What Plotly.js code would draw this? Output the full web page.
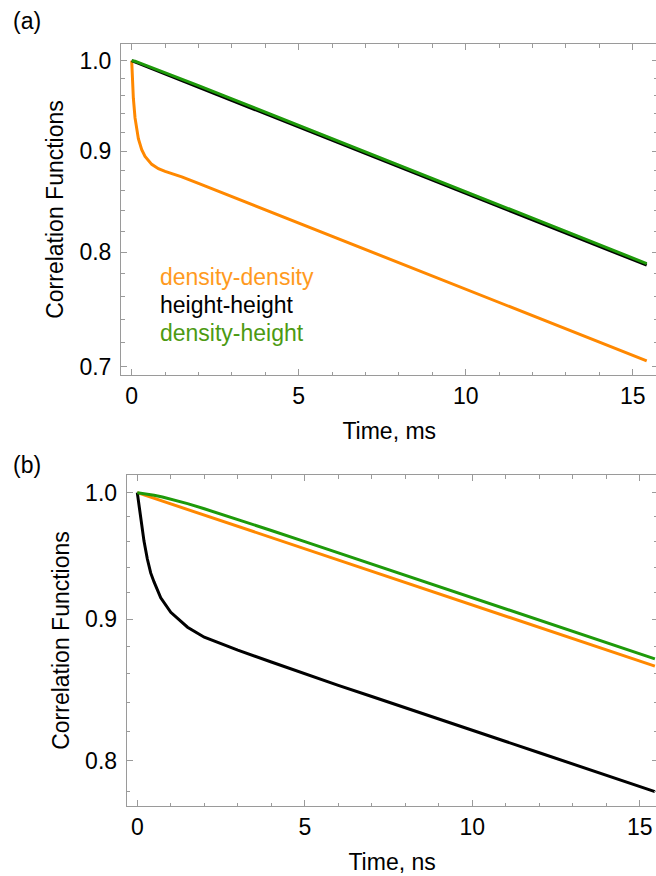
<!DOCTYPE html>
<html>
<head>
<meta charset="utf-8">
<script src="https://cdn.plot.ly/plotly-3.0.1.min.js"></script>
<style>
  html, body { margin: 0; padding: 0; overflow: hidden; background: #fff; }
  #chart { width: 659px; height: 876px; }
</style>
</head>
<body>
<div id="chart"></div>
<script>
// ---------- Panel (a): time in ms ----------
const tA_dd = [0, 0.02, 0.05, 0.1, 0.15, 0.2, 0.3, 0.4, 0.6, 0.8, 1.0, 1.5, 2, 3, 4, 5, 6, 7, 8, 9, 10, 11, 12, 13, 14, 15, 15.42];
const a_densityDensity = [1.0, 0.9772, 0.9572, 0.9355, 0.9215, 0.9131, 0.9016, 0.8944, 0.8862, 0.8817, 0.8790, 0.8734, 0.8668, 0.8535, 0.8404, 0.8276, 0.8149, 0.8024, 0.7901, 0.7780, 0.7663, 0.7544, 0.7429, 0.7315, 0.7203, 0.7094, 0.7049];

const tA_hh = [0, 1, 2, 3, 4, 5, 6, 7, 8, 9, 10, 11, 12, 13, 14, 15, 15.42];
const a_heightHeight = [1.0, 0.9847, 0.9696, 0.9547, 0.9401, 0.9257, 0.9115, 0.8975, 0.8837, 0.8702, 0.8569, 0.8437, 0.8308, 0.8181, 0.8055, 0.7932, 0.7880];

const tA_dh = [0, 0.1, 0.25, 0.5, 1, 2, 3, 4, 5, 6, 7, 8, 9, 10, 11, 12, 13, 14, 15, 15.42];
const a_densityHeight = [1.0, 0.9993, 0.9972, 0.9936, 0.9863, 0.9714, 0.9565, 0.9418, 0.9274, 0.9132, 0.8992, 0.8855, 0.8719, 0.8586, 0.8454, 0.8325, 0.8197, 0.8072, 0.7946, 0.7895];

// ---------- Panel (b): time in ns ----------
const tB_dd = [0, 1, 2, 3, 4, 5, 6, 7, 8, 9, 10, 11, 12, 13, 14, 15, 15.45];
const b_densityDensity = [1.0, 0.9907, 0.9815, 0.9724, 0.9633, 0.9544, 0.9455, 0.9367, 0.9280, 0.9194, 0.9108, 0.9023, 0.8939, 0.8856, 0.8774, 0.8692, 0.8656];

const tB_hh = [0, 0.05, 0.1, 0.2, 0.3, 0.4, 0.5, 0.7, 1, 1.5, 2, 2.5, 3, 4, 5, 6, 7, 8, 9, 10, 11, 12, 13, 14, 15, 15.45];
const b_heightHeight = [1.0, 0.9890, 0.9790, 0.9605, 0.9463, 0.9354, 0.9284, 0.9162, 0.9052, 0.8941, 0.8867, 0.8820, 0.8772, 0.8686, 0.8599, 0.8518, 0.8440, 0.8360, 0.8283, 0.8205, 0.8130, 0.8054, 0.7980, 0.7905, 0.7831, 0.7798];

const tB_dh = [0, 0.25, 0.5, 0.75, 1, 1.5, 2, 3, 4, 5, 6, 7, 8, 9, 10, 11, 12, 13, 14, 15, 15.45];
const b_densityHeight = [1.0, 0.9991, 0.9979, 0.9964, 0.9947, 0.9909, 0.9867, 0.9780, 0.9690, 0.9601, 0.9512, 0.9423, 0.9336, 0.9249, 0.9163, 0.9078, 0.8993, 0.8910, 0.8827, 0.8745, 0.8708];

// ---------- Labels and ticks ----------
const seriesNames = ['density-density', 'height-height', 'density-height'];
const xMajorTicks = [0, 5, 10, 15];
const xMinorTicks = [1, 2, 3, 4, 6, 7, 8, 9, 11, 12, 13, 14];
const yMajorTicksA = [0.7, 0.8, 0.9, 1.0];
const yMajorTextA = ['0.7', '0.8', '0.9', '1.0'];
const yMinorTicksA = [0.72, 0.74, 0.76, 0.78, 0.82, 0.84, 0.86, 0.88, 0.92, 0.94, 0.96, 0.98];
const yMajorTicksB = [0.8, 0.9, 1.0];
const yMajorTextB = ['0.8', '0.9', '1.0'];
const yMinorTicksB = [0.78, 0.82, 0.84, 0.86, 0.88, 0.92, 0.94, 0.96, 0.98];
const xTitleA = 'Time, ms';
const xTitleB = 'Time, ns';
const yTitle = 'Correlation Functions';
const panelLabels = ['(a)', '(b)'];

// ---------- Styling ----------
const FONT = '"Liberation Sans", Arial, Helvetica, sans-serif';
const FS = 23;
const cOrange = '#FF8800';
const cBlack = '#000000';
const cGreen = '#1E9A0A';
const cOrangeText = '#FF9A1E';
const cGreenText = '#4C9A12';
const frameColor = '#9a9a9a';
const W = 659, H = 876;

function px2x(p) { return p / W; }
function py2y(p) { return (H - p) / H; }

function line(x, y, color, xa, ya, name) {
  return { x: x, y: y, type: 'scatter', mode: 'lines', name: name,
           line: { color: color, width: 3 }, xaxis: xa, yaxis: ya,
           showlegend: false, hoverinfo: 'skip' };
}

const traces = [
  line(tA_dd, a_densityDensity, cOrange, 'x', 'y', seriesNames[0]),
  line(tA_hh, a_heightHeight, cBlack, 'x', 'y', seriesNames[1]),
  line(tA_dh, a_densityHeight, cGreen, 'x', 'y', seriesNames[2]),
  line(tB_dd, b_densityDensity, cOrange, 'x2', 'y2', seriesNames[0]),
  line(tB_hh, b_heightHeight, cBlack, 'x2', 'y2', seriesNames[1]),
  line(tB_dh, b_densityHeight, cGreen, 'x2', 'y2', seriesNames[2])
];

function xAxis(domain, range, title, anchor) {
  return {
    domain: domain, range: range, anchor: anchor,
    tickmode: 'array', tickvals: xMajorTicks, ticktext: xMajorTicks.map(String),
    ticks: 'inside', ticklen: 6, tickwidth: 1, tickcolor: frameColor,
    minor: { tickmode: 'array', tickvals: xMinorTicks, ticks: 'inside', ticklen: 3.5, tickwidth: 1, tickcolor: frameColor, showgrid: false },
    showline: true, linecolor: frameColor, linewidth: 1, mirror: 'ticks',
    showgrid: false, zeroline: false,
    tickfont: { family: FONT, size: FS, color: '#000' },
    ticklabelstandoff: 0,
    title: { text: title, font: { family: FONT, size: FS, color: '#000' }, standoff: 15 }
  };
}
function yAxis(domain, range, tv, tt, minor, anchor) {
  return {
    domain: domain, range: range, type: 'log', anchor: anchor,
    tickmode: 'array', tickvals: tv, ticktext: tt,
    ticks: 'inside', ticklen: 6, tickwidth: 1, tickcolor: frameColor,
    minor: { tickmode: 'array', tickvals: minor, ticks: 'inside', ticklen: 3.5, tickwidth: 1, tickcolor: frameColor, showgrid: false },
    showline: true, linecolor: frameColor, linewidth: 1, mirror: 'ticks',
    showgrid: false, zeroline: false,
    tickfont: { family: FONT, size: FS, color: '#000' },
    ticklabelstandoff: 4,
    title: { text: yTitle, font: { family: FONT, size: FS, color: '#000' }, standoff: 9 }
  };
}

const layout = {
  width: W, height: H,
  margin: { l: 0, r: 0, t: 0, b: 0 },
  paper_bgcolor: '#fff', plot_bgcolor: '#fff',
  font: { family: FONT, size: FS, color: '#000' },
  showlegend: false,
  xaxis: xAxis([px2x(121), px2x(657.5)], [-0.320, 15.743], xTitleA, 'y'),
  yaxis: yAxis([py2y(375), py2y(44)], [Math.log10(0.6934), Math.log10(1.0196)], yMajorTicksA, yMajorTextA, yMinorTicksA, 'x'),
  xaxis2: xAxis([px2x(126.7), px2x(657.5)], [-0.316, 15.528], xTitleB, 'y2'),
  yaxis2: yAxis([py2y(806), py2y(475)], [Math.log10(0.7705), Math.log10(1.0148)], yMajorTicksB, yMajorTextB, yMinorTicksB, 'x2'),
  annotations: [
    { text: panelLabels[0], xref: 'paper', yref: 'paper', x: px2x(11), y: py2y(21), xanchor: 'left', yanchor: 'middle', showarrow: false, font: { family: FONT, size: FS, color: '#000' } },
    { text: panelLabels[1], xref: 'paper', yref: 'paper', x: px2x(11), y: py2y(465), xanchor: 'left', yanchor: 'middle', showarrow: false, font: { family: FONT, size: FS, color: '#000' } },
    { text: seriesNames[0], xref: 'paper', yref: 'paper', x: px2x(158), y: py2y(277), xanchor: 'left', yanchor: 'middle', showarrow: false, font: { family: FONT, size: FS, color: cOrangeText } },
    { text: seriesNames[1], xref: 'paper', yref: 'paper', x: px2x(158), y: py2y(305), xanchor: 'left', yanchor: 'middle', showarrow: false, font: { family: FONT, size: FS, color: '#000' } },
    { text: seriesNames[2], xref: 'paper', yref: 'paper', x: px2x(158), y: py2y(333), xanchor: 'left', yanchor: 'middle', showarrow: false, font: { family: FONT, size: FS, color: cGreenText } }
  ]
};

Plotly.newPlot('chart', traces, layout, { staticPlot: true, displayModeBar: false });
</script>
</body>
</html>
